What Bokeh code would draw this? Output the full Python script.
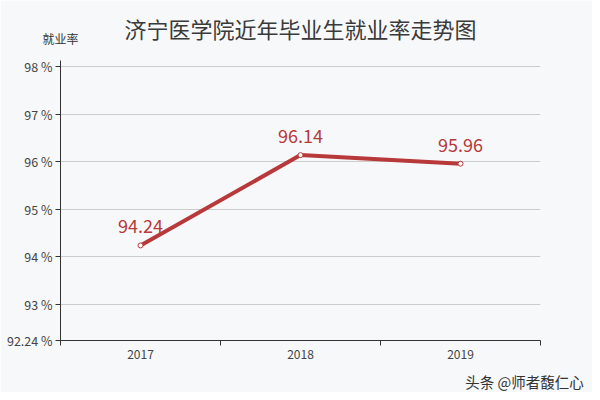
from bokeh.plotting import figure
from bokeh.models import (ColumnDataSource, FixedTicker, CustomJSTickFormatter, Range1d,
                          LabelSet, Label)
from bokeh.core.properties import value
from bokeh.embed import file_html
from bokeh.resources import INLINE

# ---- data ----
years = ["2017", "2018", "2019"]
rates = [94.24, 96.14, 95.96]
y_ticks = [92.24, 93, 94, 95, 96, 97, 98]
title_text = "济宁医学院近年毕业生就业率走势图"
y_label_text = "就业率"
watermark_text = "头条 @师者馥仁心"

FONT = "Noto Sans CJK SC"
RED = "#b8393a"
BG = "#f7f8fa"

xs = [i + 0.5 for i in range(len(years))]
labels = ["%.2f" % r for r in rates]
src = ColumnDataSource(dict(x=xs, y=rates, label=labels))

y_min, y_max = 92.24, 98.13

p = figure(width=592, height=392, output_backend="svg", toolbar_location=None,
           x_range=Range1d(0, len(years)), y_range=Range1d(y_min, y_max),
           min_border_left=60, min_border_right=52, min_border_top=60, min_border_bottom=52)
p.background_fill_color = BG
p.border_fill_color = BG
p.outline_line_color = None

# axes
p.xaxis.ticker = FixedTicker(ticks=xs, minor_ticks=list(range(len(years) + 1)))
p.xaxis.major_label_overrides = {x: y for x, y in zip(xs, years)}
p.xaxis.major_tick_out = 0
p.xaxis.major_tick_in = 0
p.xaxis.minor_tick_out = 5
p.xaxis.minor_tick_in = 0
p.xaxis.minor_tick_line_color = "#333333"
p.xaxis.axis_line_color = "#333333"
p.xaxis.major_label_text_font = FONT
p.xaxis.major_label_text_font_size = "12px"
p.xaxis.major_label_text_color = "#444444"
p.xaxis.major_label_standoff = 4
p.xgrid.visible = False

p.yaxis.ticker = FixedTicker(ticks=y_ticks)
p.yaxis.formatter = CustomJSTickFormatter(code="return (Math.round(tick*100)/100) + ' %';")
p.yaxis.major_tick_out = 5
p.yaxis.major_tick_in = 0
p.yaxis.minor_tick_line_color = None
p.yaxis.axis_line_color = "#333333"
p.yaxis.major_tick_line_color = "#333333"
p.yaxis.major_label_text_font = FONT
p.yaxis.major_label_text_font_size = "12.5px"
p.yaxis.major_label_text_color = "#444444"
p.yaxis.major_label_standoff = 3
p.ygrid.grid_line_color = "#cccccc"
p.ygrid.ticker = FixedTicker(ticks=[t for t in y_ticks if t != y_min] + [y_max])

# series
p.line("x", "y", source=src, line_color=RED, line_width=4)
p.scatter("x", "y", source=src, size=5, fill_color="white", line_color=RED, line_width=1)
p.add_layout(LabelSet(x="x", y="y", text="label", source=src, y_offset=19,
                      text_align="center", text_baseline="middle",
                      text_font=value(FONT), text_font_size="18px", text_color=RED))

# texts (placed in side panels so they are not clipped by the frame)
p.add_layout(Label(x=0, y=22, x_units="screen", y_units="screen", text=y_label_text,
                   text_align="center", text_baseline="middle", text_font=FONT,
                   text_font_size="12px", text_color="#333333"), "above")
p.add_layout(Label(x=240, y=16, x_units="screen", y_units="screen", text=title_text,
                   text_align="center", text_baseline="middle", text_font=FONT,
                   text_font_size="22px", text_color="#3a3a3a"), "above")
p.add_layout(Label(x=464, y=1, x_units="screen", y_units="screen", text=watermark_text,
                   text_align="center", text_baseline="middle", text_font=FONT,
                   text_font_size="14.5px", text_color="#333333"), "below")

open("out.html", "w").write(file_html(p, INLINE))
